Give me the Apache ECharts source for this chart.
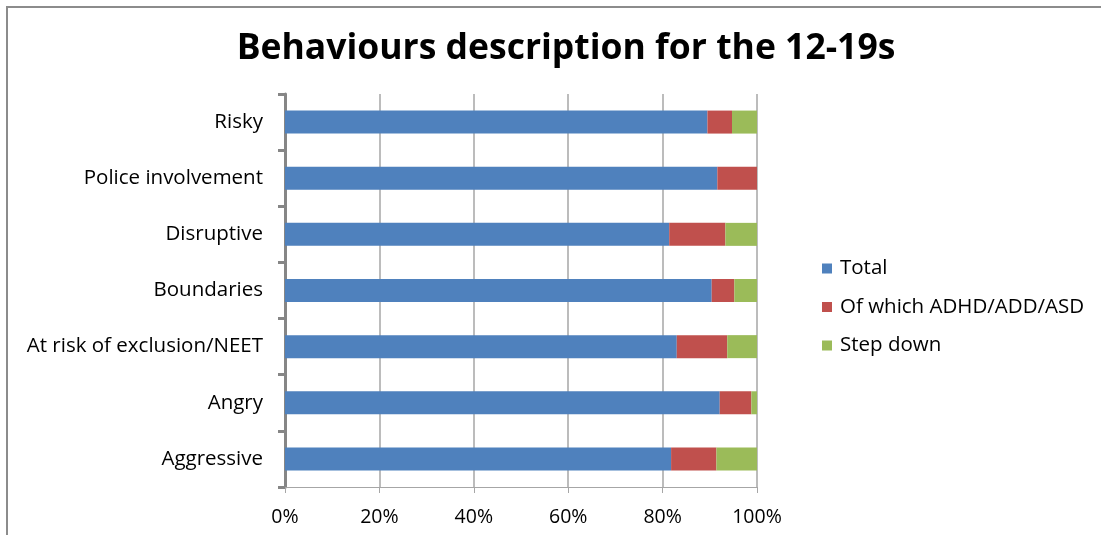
<!DOCTYPE html>
<html>
<head>
<meta charset="utf-8">
<script src="https://cdn.jsdelivr.net/npm/echarts@6/dist/echarts.min.js"></script>
<style>
  html, body { margin: 0; padding: 0; background: #fff; }
  #chart { width: 1101px; height: 535px; }
</style>
</head>
<body>
<div id="chart"></div>
<script>
// Behaviour categories, listed from top to bottom
const categories = [
  'Risky',
  'Police involvement',
  'Disruptive',
  'Boundaries',
  'At risk of exclusion/NEET',
  'Angry',
  'Aggressive'
];

// Share of each behaviour (percent), stacked to 100
const totalValues = [89.5, 91.6, 81.4, 90.4, 83.0, 92.1, 81.8];
const adhdValues  = [5.2, 8.4, 11.9, 4.8, 10.7, 6.7, 9.6];
const stepValues  = [5.3, 0.0, 6.7, 4.8, 6.3, 1.2, 8.6];

const seriesNames = ['Total', 'Of which ADHD/ADD/ASD', 'Step down'];
const xTicks = [0, 20, 40, 60, 80, 100];

const FONT = '"Open Sans", "Liberation Sans", sans-serif';
const AXIS_GREY = '#868686';

const chart = echarts.init(document.getElementById('chart'), null, { renderer: 'canvas' });

const makeSeries = (name, data, color) => ({
  name: name,
  type: 'bar',
  stack: 'share',
  data: data,
  barWidth: 23,
  itemStyle: { color: color },
  emphasis: { disabled: true }
});

chart.setOption({
  animation: false,
  backgroundColor: '#ffffff',
  title: {
    text: 'Behaviours description for the 12-19s',
    left: 561,
    textAlign: 'center',
    top: 26,
    textStyle: {
      fontFamily: FONT,
      fontWeight: 'bold',
      fontSize: 35.5,
      color: '#000000'
    }
  },
  legend: {
    orient: 'vertical',
    left: 822,
    top: 258,
    padding: 0,
    itemWidth: 10,
    itemHeight: 10,
    itemGap: 17.5,
    icon: 'rect',
    data: seriesNames,
    textStyle: { fontFamily: FONT, fontSize: 20.5, color: '#000000', padding: [0, 0, 0, 3] }
  },
  grid: {
    left: 285,
    right: 344,
    top: 94,
    bottom: 48,
    containLabel: false
  },
  xAxis: {
    type: 'value',
    min: xTicks[0],
    max: xTicks[xTicks.length - 1],
    interval: xTicks[1] - xTicks[0],
    axisLine: { show: true, lineStyle: { color: '#a6a6a6', width: 1 } },
    axisTick: { show: true, length: 6, lineStyle: { color: '#a6a6a6', width: 1 } },
    splitLine: { show: true, lineStyle: { color: '#a6a6a6', width: 1.5 } },
    axisLabel: {
      formatter: '{value}%',
      margin: 20,
      fontFamily: FONT,
      fontSize: 19.5,
      color: '#000000'
    }
  },
  yAxis: {
    type: 'category',
    inverse: true,
    data: categories,
    axisLine: { show: true, lineStyle: { color: AXIS_GREY, width: 3 } },
    axisTick: { show: true, length: 7, lineStyle: { color: AXIS_GREY, width: 3 } },
    axisLabel: {
      margin: 22,
      fontFamily: FONT,
      fontSize: 20.5,
      color: '#000000'
    }
  },
  series: [
    makeSeries(seriesNames[0], totalValues, '#4f81bd'),
    makeSeries(seriesNames[1], adhdValues, '#c0504d'),
    makeSeries(seriesNames[2], stepValues, '#9bbb59')
  ],
  graphic: [
    {
      type: 'polyline',
      shape: { points: [[7, 535], [7, 7], [1101, 7]] },
      style: { stroke: '#8c8c8c', lineWidth: 2, fill: null },
      silent: true
    }
  ]
});
</script>
</body>
</html>
